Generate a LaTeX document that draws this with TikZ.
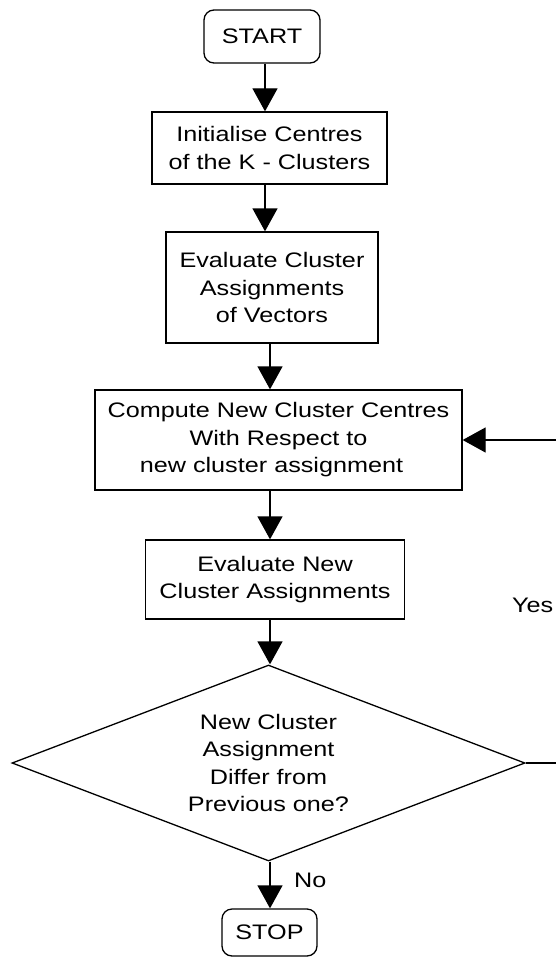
\documentclass[tikz,border=0pt]{standalone}
\usepackage{fontspec}
\setmainfont[FakeStretch=1.2]{Liberation Sans}
\usetikzlibrary{arrows.meta,shapes.geometric}
\begin{document}
\begin{tikzpicture}[x=1pt,y=-1pt,
  every node/.style={font=\fontsize{21}{27.5}\selectfont, inner sep=0pt},
  box/.style={draw, line width=1.3pt, align=center},
  term/.style={box, rounded corners=10pt},
  arr/.style={line width=1.3pt, -{Triangle[length=23pt,width=25pt]}},
  ln/.style={line width=1.3pt}
]
\useasboundingbox (0,0) rectangle (555,960);
\coordinate (axis) at (270,0);
\coordinate (axisA) at (265,0);

\node[term, minimum width=116pt, minimum height=53pt] (start) at (262,36.5) {START};
\node[box, minimum width=235pt, minimum height=72pt] (init) at (269.5,148) {Initialise Centres\\of the K - Clusters};
\node[box, minimum width=212pt, minimum height=111pt] (evalc) at (272,287.5) {Evaluate Cluster\\Assignments\\of Vectors};
\node[box, minimum width=367pt, minimum height=100pt] (comp) at (278.5,440) {Compute New Cluster Centres\\With Respect to\hspace*{14pt}\\new cluster assignment\hspace*{14pt}};
\node[box, minimum width=259pt, minimum height=79pt] (evaln) at (275,579.5) {Evaluate New\\Cluster Assignments};
\node[draw, line width=1.3pt, shape=diamond, aspect=2.617, minimum width=513pt, minimum height=196pt, align=center] (dec) at (268.5,763) {New Cluster\\Assignment\\Differ from\\Previous one?};
\node[term, minimum width=95pt, minimum height=47pt] (stop) at (269.5,932.5) {STOP};

\node[anchor=west] (yes) at (512,605) {Yes};
\node[anchor=west] (no) at (294,880) {No};

\coordinate (e1) at (565,763);
\coordinate (e2) at (565,440);

\draw[arr] (start.south -| axisA) -- (init.north -| axisA);
\draw[arr] (init.south -| axisA) -- (evalc.north -| axisA);
\draw[arr] (evalc.south -| axis) -- (comp.north -| axis);
\draw[arr] (comp.south -| axis) -- (evaln.north -| axis);
\draw[arr] (evaln.south -| axis) -- (dec.north -| axis);
\draw[arr] (dec.south -| axis) -- (stop.north -| axis);
\draw[ln] (dec.east) -- (e1);
\draw[arr] (e2) -- (comp.east);
\end{tikzpicture}
\end{document}
